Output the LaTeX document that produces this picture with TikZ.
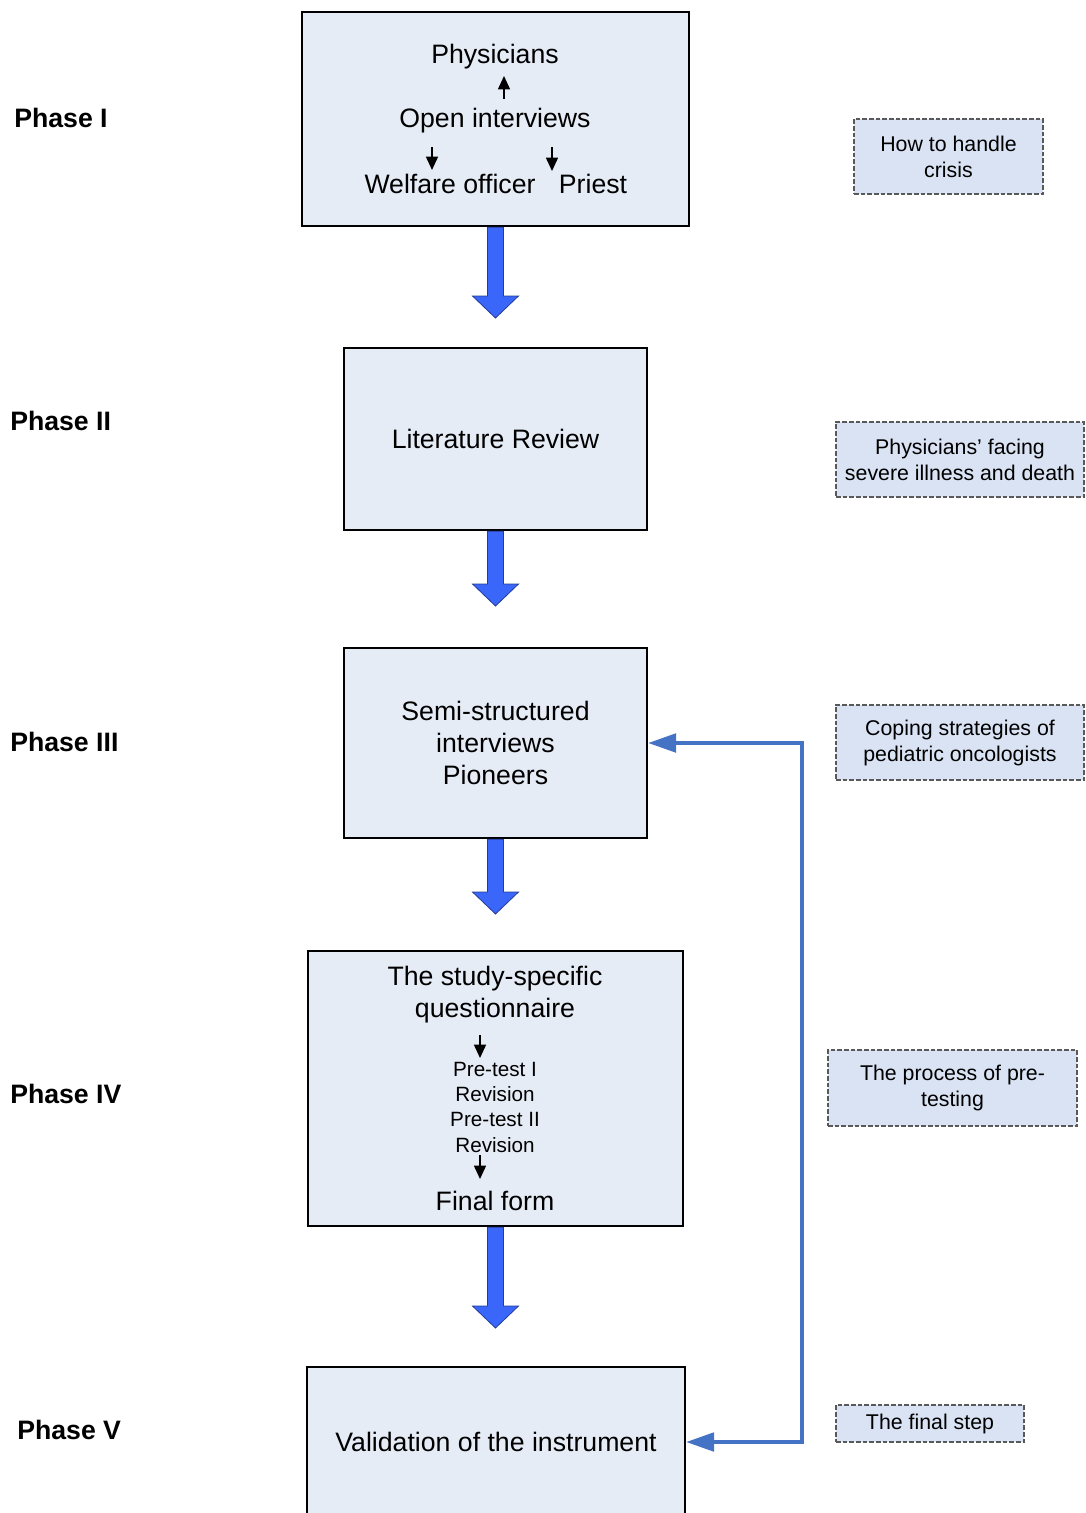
\documentclass[tikz,border=0pt]{standalone}
\usepackage{fontspec}
\setmainfont{Liberation Sans}
\usetikzlibrary{arrows.meta, positioning, calc}
\newdimen\pxu \pxu=0.75pt
\definecolor{boxfill}{RGB}{230,236,246}
\definecolor{notefill}{RGB}{218,227,243}
\definecolor{loopblue}{RGB}{68,114,196}
\definecolor{fatblue}{RGB}{59,102,250}
\newcommand{\phasearrow}[2]{%
  \draw[fatarrow] ($(#1)+(-8,0)$) -- ($(#2)+(-8,-22)$) -- ($(#2)+(-23,-22)$) -- (#2)
    -- ($(#2)+(23,-22)$) -- ($(#2)+(8,-22)$) -- ($(#1)+(8,0)$) -- cycle;}

\begin{document}
\begin{tikzpicture}[x=0.75pt, y=-0.75pt,
  mainbox/.style={draw=black, line width=1.8pt, fill=boxfill, align=center, font=\fontsize{20}{24}\selectfont},
  notebox/.style={draw=black!65, dash pattern=on 3.5pt off 1.5pt, line width=0.8pt, fill=notefill, align=center, font=\fontsize{16}{19.5}\selectfont},
  phaselabel/.style={anchor=west, inner sep=0pt, font=\bfseries\fontsize{20}{24}\selectfont},
  bodytext/.style={inner sep=0pt, font=\fontsize{20}{24}\selectfont},
  smalltext/.style={inner sep=0pt, align=center, font=\fontsize{15.5}{19}\selectfont},
  smallarrow/.style={line width=1.1pt, -{Triangle[length=10pt,width=9pt]}},
  fatarrow/.style={fill=fatblue, draw=fatblue!60!black, line width=0.6pt, line join=miter},
  loopline/.style={draw=loopblue, line width=2.6pt, line join=miter, {Triangle[length=21pt,width=14pt]}-{Triangle[length=21pt,width=14pt]}}]
  \useasboundingbox (0,0) rectangle (1085,1513);

  \node[mainbox, minimum width=387\pxu, minimum height=214\pxu] (interviews) at (495.5,119) {};
  \node[bodytext] (physicians) at (495,57) {Physicians};
  \node[bodytext] (open) at (495,121) {Open interviews};
  \node[bodytext] (welfare) at (450,184) {Welfare officer};
  \node[bodytext] (priest) at (593,184) {Priest};
  \coordinate (upfoot) at (504,99);
  \coordinate (uptip) at (504,76);
  \coordinate (leftfoot) at (432,147);
  \coordinate (lefttip) at (432,170);
  \coordinate (rightfoot) at (552,147);
  \coordinate (righttip) at (552,171);
  \draw[smallarrow] (upfoot) -- (uptip);
  \draw[smallarrow] (leftfoot) -- (lefttip);
  \draw[smallarrow] (rightfoot) -- (righttip);

  \node[mainbox, minimum width=303\pxu, minimum height=182\pxu] (literature) at (495.5,439) {Literature Review};
  \node[mainbox, minimum width=303\pxu, minimum height=190\pxu] (pioneers) at (495.5,743) {Semi-structured\\interviews\\Pioneers};

  \node[mainbox, minimum width=375\pxu, minimum height=275\pxu] (questionnaire) at (495.5,1088.5) {};
  \node[bodytext, align=center] (study) at (495,995) {The study-specific\\questionnaire};
  \node[smalltext] (pretest) at (495,1107) {Pre-test I\\Revision\\Pre-test II\\Revision};
  \node[bodytext] (final) at (495,1201) {Final form};
  \coordinate (qfoot) at (480,1035);
  \coordinate (qtip) at (480,1058);
  \coordinate (rfoot) at (480,1155);
  \coordinate (rtip) at (480,1179);
  \draw[smallarrow] (qfoot) -- (qtip);
  \draw[smallarrow] (rfoot) -- (rtip);

  \node[mainbox, minimum width=378\pxu, minimum height=150\pxu] (validation) at (496,1442) {Validation of the instrument};

  \coordinate (tip1) at (495.5,318);
  \coordinate (tip2) at (495.5,606);
  \coordinate (tip3) at (495.5,914);
  \coordinate (tip4) at (495.5,1328);
  \phasearrow{interviews.south}{tip1}
  \phasearrow{literature.south}{tip2}
  \phasearrow{pioneers.south}{tip3}
  \phasearrow{questionnaire.south}{tip4}

  \coordinate (bend) at (802,743);
  \draw[loopline] (validation.east) -| (bend) |- (pioneers.east);

  \node[notebox, minimum width=189\pxu, minimum height=75\pxu] (crisis) at (948.5,156.5) {How to handle\\crisis};
  \node[notebox, minimum width=248\pxu, minimum height=75\pxu] (facing) at (960,459.5) {Physicians' facing\\severe illness and death};
  \node[notebox, minimum width=248\pxu, minimum height=75\pxu] (coping) at (960,742.5) {Coping strategies of\\pediatric oncologists};
  \node[notebox, minimum width=249\pxu, minimum height=76\pxu] (pretesting) at (952.5,1088) {The process of pre-\\testing};
  \node[notebox, minimum width=188\pxu, minimum height=37\pxu] (finalstep) at (930,1423.5) {The final step};

  \node[phaselabel] (phase1) at (14,118) {Phase I};
  \node[phaselabel] (phase2) at (10,421) {Phase II};
  \node[phaselabel] (phase3) at (10,742) {Phase III};
  \node[phaselabel] (phase4) at (10,1094) {Phase IV};
  \node[phaselabel] (phase5) at (17,1430) {Phase V};
\end{tikzpicture}
\end{document}
